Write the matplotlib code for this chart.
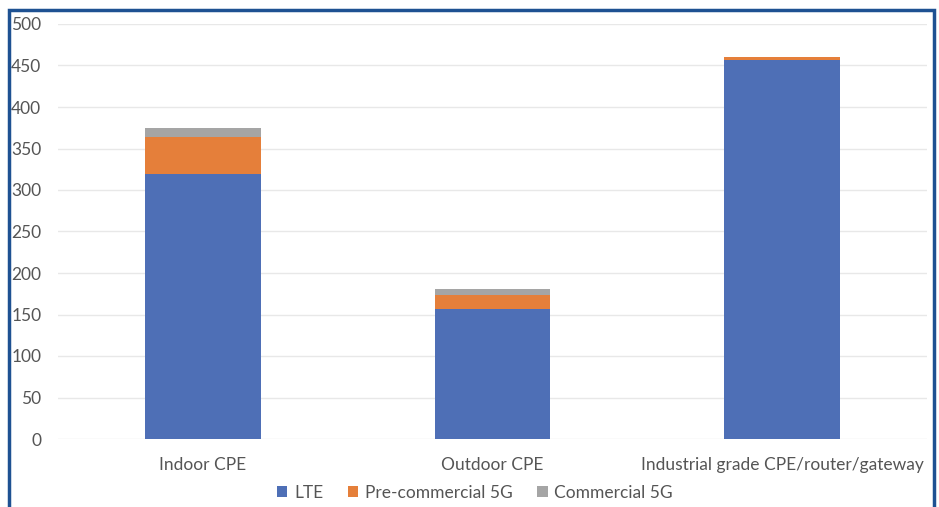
import matplotlib
matplotlib.use("Agg")
import matplotlib.pyplot as plt
from matplotlib.patches import Rectangle
import numpy as np

categories = ["Indoor CPE", "Outdoor CPE", "Industrial grade CPE/router/gateway"]
lte = [319, 157, 457]
pre_5g = [45, 17, 3]
com_5g = [11, 7, 0]
series_names = ["LTE", "Pre-commercial 5G", "Commercial 5G"]
colors = ["#4E6FB6", "#E57F3A", "#A5A5A5"]
yticks = [0, 50, 100, 150, 200, 250, 300, 350, 400, 450, 500]

plt.rcParams['font.family'] = ['Lato', 'DejaVu Sans']
text_color = "#555555"

fig = plt.figure(figsize=(9.39, 5.07), dpi=100)
W, H = 939, 507
ax = fig.add_axes([58 / W, 1 - 439 / H, (927 - 58) / W, (439 - 24) / H])

x = np.arange(len(categories))
lte_a = np.array(lte)
pre_a = np.array(pre_5g)
com_a = np.array(com_5g)
ax.bar(x, lte_a, width=0.4, color=colors[0], label=series_names[0], zorder=3)
ax.bar(x, pre_a, width=0.4, bottom=lte_a, color=colors[1], label=series_names[1], zorder=3)
ax.bar(x, com_a, width=0.4, bottom=lte_a + pre_a, color=colors[2], label=series_names[2], zorder=3)

ax.set_xlim(-0.5, len(categories) - 0.5)
ax.set_ylim(0, 500)
ax.set_yticks(yticks)
ax.set_yticklabels([str(v) for v in yticks])
ax.set_xticks(x)
ax.set_xticklabels(categories)
ax.grid(axis='y', color="#E8E8E8", linewidth=1, zorder=0)
for s in ax.spines.values():
    s.set_visible(False)
ax.tick_params(axis='both', length=0, colors=text_color, labelsize=12.5)
ax.tick_params(axis='y', pad=12)
ax.tick_params(axis='x', pad=13)
for lbl in ax.get_yticklabels():
    lbl.set_horizontalalignment('right')

leg = fig.legend(loc='center', bbox_to_anchor=(475 / W, 1 - 493 / H), ncol=3,
                 frameon=False, fontsize=12.5, handlelength=0.6, handleheight=0.6,
                 handletextpad=0.4, columnspacing=1.4, labelcolor=text_color)

# frame border
fig.add_artist(Rectangle((8.5 / W, -0.05), (933.5 - 8.5) / W, 1.05 - 10 / H,
                         transform=fig.transFigure, fill=False,
                         edgecolor="#1E5192", linewidth=2.5))

fig.savefig("out.png", dpi=100)
